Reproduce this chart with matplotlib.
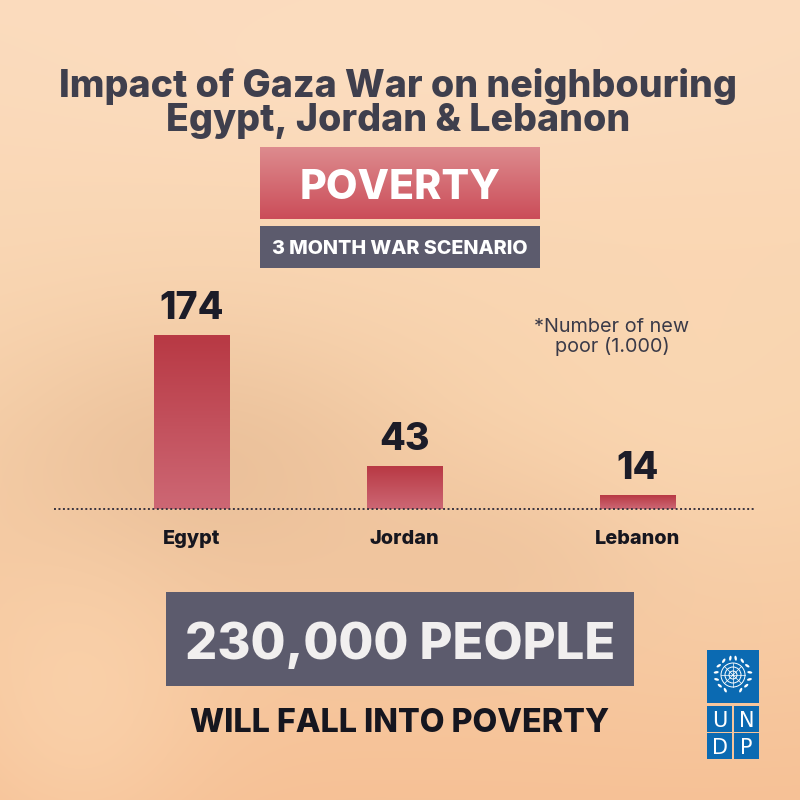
import numpy as np
import matplotlib
matplotlib.use("Agg")
import matplotlib.pyplot as plt
from matplotlib.patches import Rectangle, Circle, Ellipse
from matplotlib.colors import to_rgb

# ---------------- data ----------------
countries = ["Egypt", "Jordan", "Lebanon"]
new_poor_thousands = [174, 43, 14]
title_lines = ["Impact of Gaza War on neighbouring", "Egypt, Jordan & Lebanon"]
topic = "POVERTY"
scenario = "3 MONTH WAR SCENARIO"
footnote = "*Number of new\npoor (1.000)"
total_text = "230,000 PEOPLE"
total_sub = "WILL FALL INTO POVERTY"
logo_letters = ["U", "N", "D", "P"]

# ---------------- layout / style ----------------
W = H = 800
bar_centers = [192, 404.5, 638]
bar_width = 76
baseline_y = 509
chart_top_y = 280
FONT = "Inter"
HEAVY = 800
dark = "#3f3f4d"
slate = "#5c5b6d"

fig = plt.figure(figsize=(8, 8), dpi=100)

# background axes in pixel coordinates (y downward)
bg = fig.add_axes([0, 0, 1, 1])
bg.set_xlim(0, W)
bg.set_ylim(H, 0)
bg.axis("off")

yy, xx = np.mgrid[0:H, 0:W].astype(float)
top = np.array(to_rgb("#fbdbbd"))
mid = np.array(to_rgb("#f9d4ae"))
bot = np.array(to_rgb("#f6c196"))
t = (yy / H)[..., None]
img = np.where(t < 0.5, top + (mid - top) * (t / 0.5), mid + (bot - mid) * ((t - 0.5) / 0.5))


def blob(cx, cy, sx, sy, color, strength):
    w = np.exp(-(((xx - cx) / sx) ** 2 + ((yy - cy) / sy) ** 2))[..., None] * strength
    return w, np.array(to_rgb(color))


for cx, cy, sx, sy, col, s in [
    (200, 470, 220, 140, "#e8bd97", 0.8),
    (520, 560, 200, 90, "#ebc09a", 0.6),
    (700, 420, 160, 200, "#fbd8b4", 0.5),
    (80, 700, 120, 150, "#fcd6b0", 0.6),
    (420, 70, 400, 90, "#fcdfc3", 0.5),
]:
    w, c = blob(cx, cy, sx, sy, col, s)
    img = img * (1 - w) + c * w
bg.imshow(np.clip(img, 0, 1), extent=(0, W, H, 0), aspect="auto", zorder=0, interpolation="bilinear")

# title
for i, line in enumerate(title_lines):
    bg.text(398, 97 + 34 * i, line, ha="center", va="baseline", fontsize=27,
            fontfamily=FONT, fontweight=HEAVY, color=dark, zorder=5)


def gradient_rect(ax, x0, y0, w, h, c_top, c_bot, z=3):
    ct = np.array(to_rgb(c_top)); cb = np.array(to_rgb(c_bot))
    g = np.linspace(0, 1, 64)[:, None, None]
    arr = np.repeat(ct + (cb - ct) * g, 2, axis=1)
    ax.imshow(arr, extent=(x0, x0 + w, y0 + h, y0), aspect="auto", zorder=z, interpolation="bilinear")


# POVERTY box
gradient_rect(bg, 260, 147, 280, 72, "#dd8b8e", "#cb4d59")
bg.text(400, 184, topic, ha="center", va="center_baseline", fontsize=29.5,
        fontfamily=FONT, fontweight=HEAVY, color="white", zorder=6)

# scenario box
bg.add_patch(Rectangle((260, 226), 280, 42, facecolor=slate, edgecolor="none", zorder=3))
bg.text(400, 247.5, scenario, ha="center", va="center_baseline", fontsize=14.2,
        fontfamily=FONT, fontweight=HEAVY, color="white", zorder=6)

# footnote
bg.text(612, 337, footnote, ha="center", va="center", fontsize=14.3, linespacing=1.05,
        fontfamily=FONT, color="#3a3a48", zorder=6)

# total box
bg.add_patch(Rectangle((166, 592), 468, 94, facecolor=slate, edgecolor="none", zorder=3))
bg.text(400, 640, total_text, ha="center", va="center_baseline", fontsize=36.5,
        fontfamily=FONT, fontweight=HEAVY, color="#f1efef", zorder=6)
bg.text(400, 720, total_sub, ha="center", va="center_baseline", fontsize=23.2,
        fontfamily=FONT, fontweight=HEAVY, color="#16161f", zorder=6)

# UNDP logo
blue = "#0b6ab2"
lx, ly = 707, 650
bg.add_patch(Rectangle((lx, ly), 52, 53, facecolor=blue, edgecolor="none", zorder=4))
cells = [(lx, 706), (lx + 27, 706), (lx, 733), (lx + 27, 733)]
for (cx, cy), letter in zip(cells, logo_letters):
    bg.add_patch(Rectangle((cx, cy), 25, 25.5, facecolor=blue, edgecolor="none", zorder=4))
    bg.text(cx + 12.5, cy + 13, letter, ha="center", va="center_baseline", fontsize=15,
            fontfamily="DejaVu Sans", color="white", zorder=6)
ecx, ecy = lx + 26, ly + 25
for r in [4, 8, 12]:
    bg.add_patch(Circle((ecx, ecy), r, fill=False, edgecolor="white", linewidth=0.7, zorder=5))
for ang in np.linspace(0, np.pi, 5)[:-1]:
    bg.plot([ecx - 12 * np.cos(ang), ecx + 12 * np.cos(ang)],
            [ecy - 12 * np.sin(ang), ecy + 12 * np.sin(ang)], color="white", lw=0.5, zorder=5)
for side in (-1, 1):
    for a in np.linspace(np.pi * 0.65, np.pi * 1.45, 7):
        ex = ecx - side * 17 * np.cos(a)
        ey = ecy + 17 * np.sin(a)
        bg.add_patch(Ellipse((ex, ey), 5, 2.4, angle=np.degrees(a) * side, facecolor="white",
                             edgecolor="none", zorder=5))

# ---------------- chart axes (1 data unit = 1 pixel) ----------------
ax = fig.add_axes([0, (H - baseline_y) / H, 1, (baseline_y - chart_top_y) / H])
ax.patch.set_alpha(0)
for s in ax.spines.values():
    s.set_visible(False)
ax.set_yticks([])

bars = ax.bar(bar_centers, new_poor_thousands, width=bar_width, color="none", zorder=3)
ct = np.array(to_rgb("#b83944")); cb = np.array(to_rgb("#cd6774"))
g = np.linspace(0, 1, 64)[:, None, None]
grad = np.repeat(ct + (cb - ct) * g, 2, axis=1)
for b, v in zip(bars, new_poor_thousands):
    x0, y0 = b.get_x(), b.get_y()
    w, h = b.get_width(), b.get_height()
    im = ax.imshow(grad, extent=(x0, x0 + w, y0, y0 + h), aspect="auto", zorder=2,
                   interpolation="bilinear")
    im.set_clip_path(b)
    ax.text(x0 + w / 2, h + 16, f"{v}", ha="center", va="baseline", fontsize=27,
            fontfamily=FONT, fontweight=HEAVY, color="#1c1c28", zorder=5)
ax.set_xlim(0, W)
ax.set_ylim(0, baseline_y - chart_top_y)

ax.plot([54, 756], [0, 0], color="#3a3440", linestyle=(0, (1, 1.3)), linewidth=1.4, zorder=4,
        clip_on=False)

ax.set_xticks(bar_centers, countries)
ax.tick_params(axis="x", length=0, pad=15)
for lab in ax.get_xticklabels():
    lab.set_fontfamily(FONT)
    lab.set_fontweight(HEAVY)
    lab.set_fontsize(14.3)
    lab.set_color("#16161f")

fig.savefig("out.png", dpi=100)
